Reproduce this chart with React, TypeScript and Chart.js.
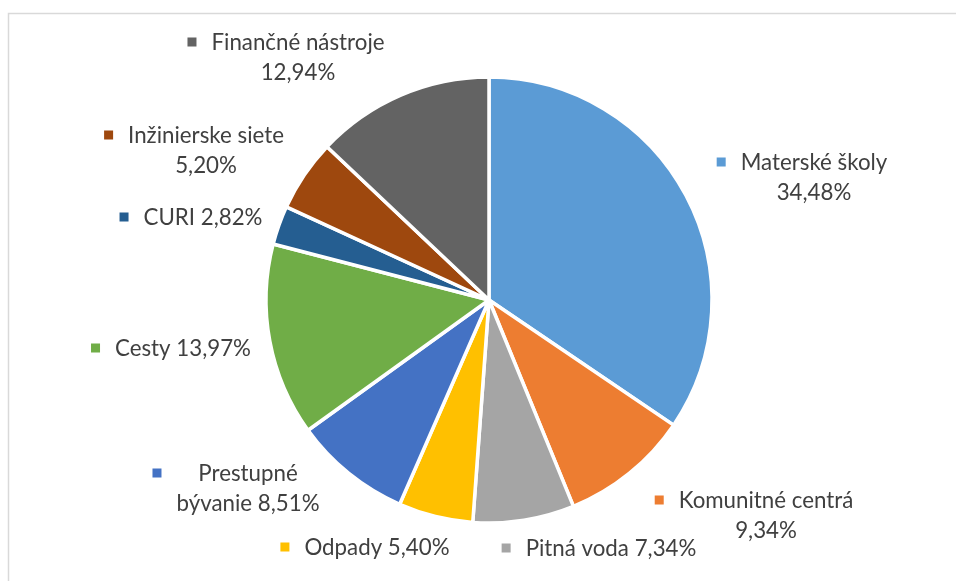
import React, { useEffect, useRef } from "react";
import { Chart, registerables } from "chart.js";

Chart.register(...registerables);

const categories = [
  "Materské školy",
  "Komunitné centrá",
  "Pitná voda",
  "Odpady",
  "Prestupné bývanie",
  "Cesty",
  "CURI",
  "Inžinierske siete",
  "Finančné nástroje",
];
const shares = [34.48, 9.34, 7.34, 5.4, 8.51, 13.97, 2.82, 5.2, 12.94];
const colors = [
  "#5B9BD5",
  "#ED7D31",
  "#A5A5A5",
  "#FFC000",
  "#4472C4",
  "#70AD47",
  "#255E91",
  "#9E480E",
  "#636363",
];

// label placement: text-block center offset from pie center, and how lines break
// split: "value" => name / value ; "none" => one line ; number => break after N words
const labelLayout = [
  { dx: 325, dy: -123, split: "value" },
  { dx: 277, dy: 215, split: "value" },
  { dx: 122, dy: 248, split: "none" },
  { dx: -112, dy: 247, split: "none" },
  { dx: -241, dy: 188, split: 1 },
  { dx: -306, dy: 48, split: "none" },
  { dx: -286, dy: -83, split: "none" },
  { dx: -283, dy: -150, split: "value" },
  { dx: -191, dy: -243, split: "value" },
];

const FONT = '22.3px "Lato", sans-serif';
const LINE_H = 30;
const TEXT_COLOR = "#404040";

function fmt(v: number) {
  return v.toFixed(2).replace(".", ",") + "%";
}

function linesFor(i: number): string[] {
  const name = categories[i];
  const val = fmt(shares[i]);
  const s = labelLayout[i].split;
  if (s === "value") return [name, val];
  if (s === "none") return [name + " " + val];
  const words = (name + " " + val).split(" ");
  const n = s as number;
  return [words.slice(0, n).join(" "), words.slice(n).join(" ")];
}

const labelPlugin = {
  id: "outLabels",
  afterDraw(chart: any) {
    const ctx = chart.ctx;
    const meta = chart.getDatasetMeta(0);
    ctx.save();
    // frame
    ctx.strokeStyle = "#d9d9d9";
    ctx.lineWidth = 1.5;
    ctx.strokeRect(8.5, 13.5, 2000, 2000);
    ctx.font = FONT;
    ctx.textAlign = "center";
    ctx.textBaseline = "middle";
    meta.data.forEach((arc: any, i: number) => {
      const lay = labelLayout[i];
      const lines = linesFor(i);
      const cx = arc.x + lay.dx;
      const cy = arc.y + lay.dy;
      const y0 = cy - ((lines.length - 1) * LINE_H) / 2;
      let minLeft = Infinity;
      lines.forEach((ln, k) => {
        const w = ctx.measureText(ln).width;
        minLeft = Math.min(minLeft, cx - w / 2);
        ctx.fillStyle = TEXT_COLOR;
        ctx.fillText(ln, cx, y0 + k * LINE_H + 1);
      });
      ctx.fillStyle = colors[i];
      ctx.fillRect(minLeft - 24, y0 - 4.5, 9, 9);
    });
    ctx.restore();
  },
};

export default function App() {
  const ref = useRef<HTMLCanvasElement | null>(null);
  useEffect(() => {
    document.body.style.margin = "0";
    const chart = new Chart(ref.current as HTMLCanvasElement, {
      type: "pie",
      data: {
        labels: categories,
        datasets: [
          {
            data: shares,
            backgroundColor: colors,
            borderColor: "#ffffff",
            borderWidth: 3.5,
            radius: 223,
          } as any,
        ],
      },
      options: {
        animation: false,
        responsive: false,
        layout: { padding: { left: 22, right: 0, top: 19, bottom: 0 } },
        plugins: {
          legend: { display: false },
          tooltip: { enabled: false },
        },
      },
      plugins: [labelPlugin],
    });
    return () => chart.destroy();
  }, []);
  return (
    <div style={{ position: "absolute", left: 0, top: 0, width: 956, height: 581, background: "#fff" }}>
      <canvas ref={ref} width={956} height={581} style={{ width: 956, height: 581 }} />
    </div>
  );
}
